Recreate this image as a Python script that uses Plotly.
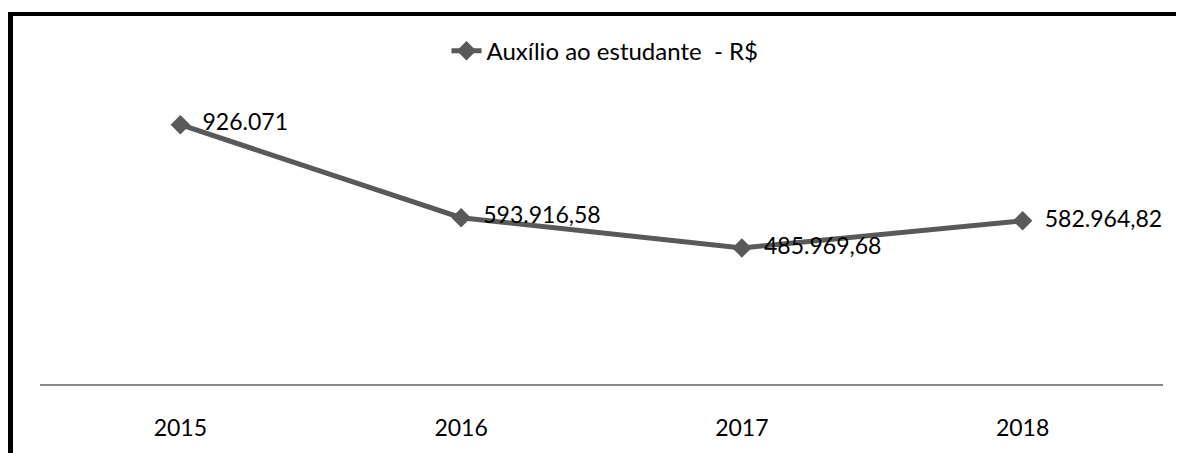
import plotly.graph_objects as go

years = ["2015", "2016", "2017", "2018"]
values = [926071.00, 593916.58, 485969.68, 582964.82]
labels = ["926.071", "593.916,58", "485.969,68", "582.964,82"]
series_name = "Auxílio ao estudante  - R$"

# page offset of the plot div (default body margin)
OFF = 8
W, H = 1184 - OFF, 453 - OFF
# target plot area in page pixels: x 40..1163, y 104..390
L = 40 - OFF
R = 1184 - 1163
T = 104 - OFF
B = 453 - 390
pw = W - L - R
ph = H - T - B

def px_x(p):
    return (p - OFF - L) / pw

def px_y(p):
    return (H - B - (p - OFF)) / ph

FONT = "Lato"
LINE = "#595959"

fig = go.Figure()
fig.add_trace(go.Scatter(
    x=years, y=values, mode="lines+markers+text",
    name=series_name,
    text=labels, textposition="middle right",
    texttemplate="\u00a0\u00a0%{text}",
    textfont=dict(family=FONT, size=23, color="#000000"),
    line=dict(color=LINE, width=5),
    marker=dict(symbol="diamond", size=15, color=LINE),
    cliponaxis=False,
))

fig.update_layout(
    width=W, height=H,
    margin=dict(l=L, r=R, t=T, b=B, pad=0),
    paper_bgcolor="white", plot_bgcolor="white",
    font=dict(family=FONT, size=23, color="#000000"),
    showlegend=True,
    legend=dict(orientation="h", x=px_x(605), xanchor="center",
                y=px_y(50), yanchor="middle",
                font=dict(family=FONT, size=24, color="#000000"),
                bgcolor="rgba(0,0,0,0)"),
    xaxis=dict(type="category", range=[-0.5, 3.5], showline=True,
               linecolor="#878787", linewidth=2, showgrid=False,
               zeroline=False, ticks="", ticklabelstandoff=22,
               tickfont=dict(family=FONT, size=23, color="#000000")),
    yaxis=dict(range=[0, 1000000], visible=False, showgrid=False,
               zeroline=False),
    shapes=[
        dict(type="line", xref="paper", yref="paper",
             x0=px_x(10.5), x1=px_x(10.5), y0=px_y(10), y1=px_y(470),
             line=dict(color="#000000", width=5)),
        dict(type="line", xref="paper", yref="paper",
             x0=px_x(8), x1=px_x(1200), y0=px_y(12), y1=px_y(12),
             line=dict(color="#000000", width=4)),
    ],
)

fig.write_html("out.html")
